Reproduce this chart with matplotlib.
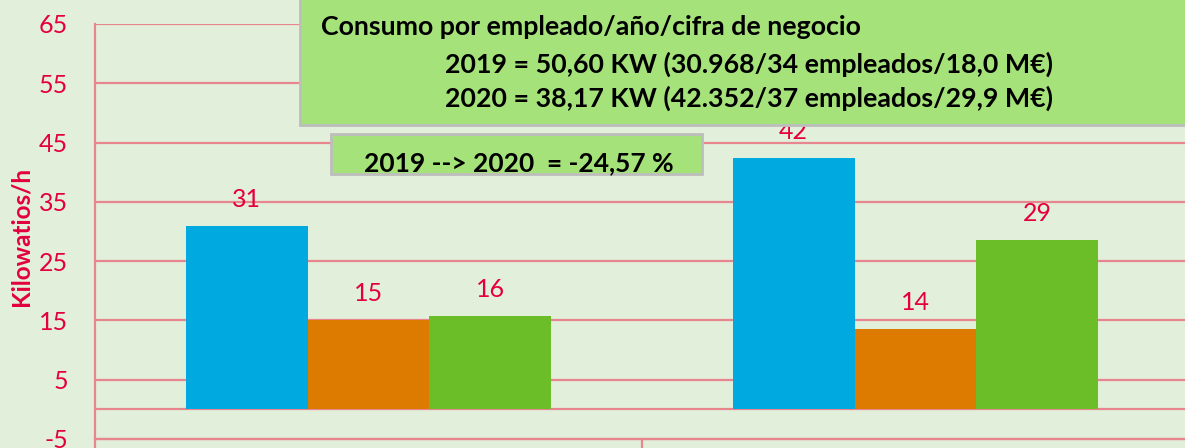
import matplotlib.pyplot as plt
import matplotlib.patches as mpatches
import numpy as np

# Data
groups = [0, 1]
series_colors = ['#00A9DF', '#DD7B00', '#6BBE28']
blue_vals = [30.97, 42.35]
orange_vals = [15.1, 13.6]
green_vals = [15.8, 28.55]
yticks = [-5, 5, 15, 25, 35, 45, 55, 65]

box_lines = ["Consumo por empleado/año/cifra de negocio",
             "2019 = 50,60 KW (30.968/34 empleados/18,0 M€)",
             "2020 = 38,17 KW (42.352/37 empleados/29,9 M€)"]
small_box_text = "2019 --> 2020  = -24,57 %"

bg = '#E2EFDA'
grid_c = '#E8868F'
red = '#E4003A'
font = ['Lato', 'DejaVu Sans']

W, H = 1185, 448
fig = plt.figure(figsize=(W / 100, H / 100), dpi=100, facecolor=bg)
ax = fig.add_axes([95 / W, 0, 1094 / W, 1 - 24 / H], facecolor=bg)

x = np.array(groups)
bw = 0.223
for i, vals in enumerate([blue_vals, orange_vals, green_vals]):
    bars = ax.bar(x + (i - 1) * bw, vals, bw, color=series_colors[i], zorder=3)
    for b, v in zip(bars, vals):
        ax.annotate(f"{v:.0f}", (b.get_x() + b.get_width() / 2, v),
                    xytext=(0, 19), textcoords='offset points',
                    ha='center', va='center', color=red, fontsize=18,
                    family=font, zorder=2)

ax.set_xlim(-0.5, 1.5)
ax.set_ylim(-6.53, 65)
ax.set_yticks(yticks)
ax.set_yticklabels([str(t) for t in yticks], family=font, fontsize=18, color=red)
ax.grid(axis='y', color=grid_c, linewidth=1.6, zorder=1)
ax.axhline(0, color=grid_c, linewidth=1.6, zorder=1)
ax.set_xticks(groups)
ax.set_xticklabels([])
ax.set_xticks([0.5], minor=True)
ax.tick_params(axis='y', length=0, pad=19.5)
ax.tick_params(axis='x', which='major', length=0)
ax.tick_params(axis='x', which='minor', length=8, width=1.6, color=grid_c, direction='out')

for s in ['top', 'right']:
    ax.spines[s].set_visible(False)
ax.spines['left'].set_color(grid_c)
ax.spines['left'].set_linewidth(1.6)
ax.spines['bottom'].set_color(grid_c)
ax.spines['bottom'].set_linewidth(1.6)
ax.spines['bottom'].set_position(('data', -5))

fig.text(21 / W, 1 - 236 / H, "Kilowatios/h", rotation=90, ha='center', va='center',
         color=red, fontsize=17.5, fontweight='bold', family=font)

# big annotation box
box_face = '#A6E27A'
big = mpatches.Rectangle((300 / W, 1 - 125 / H), (1200 - 300) / W, 140 / H,
                         transform=fig.transFigure, facecolor=box_face,
                         edgecolor='#BDBDBD', linewidth=2, zorder=5)
fig.patches.append(big)
fig.text(321 / W, 1 - 27 / H, box_lines[0], ha='left', va='center', fontsize=19.3,
         fontweight='bold', family=font, zorder=6)
fig.text(445 / W, 1 - 64 / H, box_lines[1], ha='left', va='center', fontsize=19.3,
         fontweight='bold', family=font, zorder=6)
fig.text(445 / W, 1 - 98 / H, box_lines[2], ha='left', va='center', fontsize=19.3,
         fontweight='bold', family=font, zorder=6)

small = mpatches.Rectangle((331 / W, 1 - 174 / H), (702 - 331) / W, 40 / H,
                           transform=fig.transFigure, facecolor=box_face,
                           edgecolor='#BDBDBD', linewidth=2, zorder=5)
fig.patches.append(small)
fig.text(364 / W, 1 - 163 / H, small_box_text, ha='left', va='center', fontsize=19,
         fontweight='bold', family=font, zorder=6)

fig.savefig('out.png', dpi=100, facecolor=bg)
